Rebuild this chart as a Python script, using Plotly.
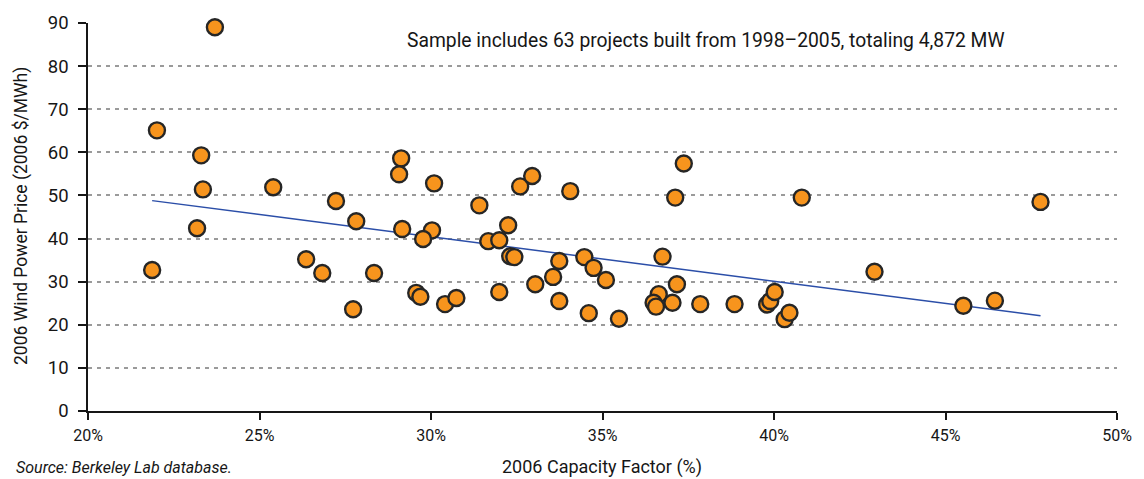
import plotly.graph_objects as go

# Capacity factor (%) and 2006 wind power price ($/MWh)
capacity_factor = [
    21.87, 22.01, 23.70, 23.30, 23.35, 23.18, 25.40, 26.36, 26.83, 27.23,
    27.82, 27.73, 28.34, 29.13, 29.07, 29.16, 30.09, 30.03, 29.77, 29.57,
    29.69, 30.41, 30.74, 31.41, 31.67, 31.99, 32.25, 32.31, 32.43, 31.99,
    32.60, 32.95, 33.04, 33.56, 33.74, 33.74, 34.06, 34.47, 34.74, 35.10,
    34.60, 35.48, 37.37, 37.12, 36.75, 37.17, 36.64, 36.49, 36.56, 37.04,
    37.85, 38.85, 39.80, 39.89, 40.02, 40.31, 40.45, 40.81, 42.93, 45.52,
    46.44, 47.77,
]
price = [
    32.7, 65.1, 89.0, 59.3, 51.4, 42.4, 51.9, 35.2, 32.0, 48.7,
    44.0, 23.6, 32.0, 58.6, 54.9, 42.2, 52.8, 41.9, 39.9, 27.4,
    26.5, 24.8, 26.2, 47.7, 39.4, 39.6, 43.1, 35.9, 35.7, 27.6,
    52.1, 54.5, 29.4, 31.1, 34.8, 25.5, 51.0, 35.7, 33.2, 30.4,
    22.7, 21.4, 57.4, 49.5, 35.8, 29.4, 27.1, 25.1, 24.2, 25.1,
    24.8, 24.8, 24.7, 25.5, 27.6, 21.3, 22.8, 49.5, 32.3, 24.4,
    25.6, 48.5,
]
trend_x = [21.87, 47.77]
trend_y = [48.8, 22.1]

x_tick_vals = [20, 25, 30, 35, 40, 45, 50]
x_tick_text = ["20%", "25%", "30%", "35%", "40%", "45%", "50%"]
y_tick_vals = [0, 10, 20, 30, 40, 50, 60, 70, 80, 90]

note_text = "Sample includes 63 projects built from 1998\u20132005, totaling 4,872 MW"
x_title = "2006 Capacity Factor (%)"
y_title = "2006 Wind Power Price (2006 $/MWh)"
source_text = "Source: Berkeley Lab database."

FONT = "Roboto, Liberation Sans, sans-serif"
INK = "#161616"

# The page body adds an 8px margin; the figure is sized to compensate.
OFF = 8
W, H = 1144 - OFF, 479 - OFF
PL, PR, PT, PB = 88, 1117, 23, 411  # plot area in page pixels


def paper(px, py):
    return (px - PL) / (PR - PL), (PB - py) / (PB - PT)


fig = go.Figure()
fig.add_trace(go.Scatter(
    x=trend_x, y=trend_y, mode="lines",
    line=dict(color="#2b4ea8", width=1.5),
    hoverinfo="skip", showlegend=False,
))
fig.add_trace(go.Scatter(
    x=capacity_factor, y=price, mode="markers",
    marker=dict(size=16, color="#f7941d", line=dict(color="#262626", width=2.4)),
    showlegend=False, cliponaxis=False,
))

nx, ny = paper(706, 41)
xtx, xty = paper(602, 467)
sx, sy = paper(14, 467)
yx, yy = paper(21, 216)

fig.update_layout(
    width=W, height=H,
    margin=dict(l=PL - OFF, r=W - (PR - OFF), t=PT - OFF, b=H - (PB - OFF), autoexpand=False),
    paper_bgcolor="white", plot_bgcolor="white",
    font=dict(family=FONT, size=18, color=INK),
    xaxis=dict(
        range=[20, 50], tickvals=x_tick_vals, ticktext=x_tick_text,
        showgrid=False, zeroline=False,
        showline=True, linecolor=INK, linewidth=1.5,
        ticks="outside", ticklen=7, tickwidth=1.5, tickcolor=INK,
        ticklabelstandoff=2,
        tickfont=dict(family=FONT, size=16, color=INK),
    ),
    yaxis=dict(
        range=[0, 90], tickvals=y_tick_vals,
        showgrid=True, gridcolor="#9a9a9a", griddash="4px,5px", gridwidth=1.5,
        zeroline=False,
        showline=True, linecolor=INK, linewidth=1.5,
        ticks="outside", ticklen=8, tickwidth=1.5, tickcolor=INK,
        ticklabelstandoff=6,
        tickfont=dict(family=FONT, size=18.5, color=INK),
    ),
    annotations=[
        dict(text=note_text, x=nx, y=ny, xref="paper", yref="paper",
             xanchor="center", yanchor="middle", showarrow=False,
             font=dict(family=FONT, size=19.3, color=INK)),
        dict(text=x_title, x=xtx, y=xty, xref="paper", yref="paper",
             xanchor="center", yanchor="middle", showarrow=False,
             font=dict(family=FONT, size=18, color=INK)),
        dict(text="<i>" + source_text + "</i>", x=sx, y=sy, xref="paper", yref="paper",
             xanchor="left", yanchor="middle", showarrow=False,
             font=dict(family=FONT, size=16, color=INK)),
        dict(text=y_title, x=yx, y=yy, xref="paper", yref="paper",
             xanchor="center", yanchor="middle", showarrow=False, textangle=-90,
             font=dict(family=FONT, size=17.5, color=INK)),
    ],
)

fig.write_html("out.html")
